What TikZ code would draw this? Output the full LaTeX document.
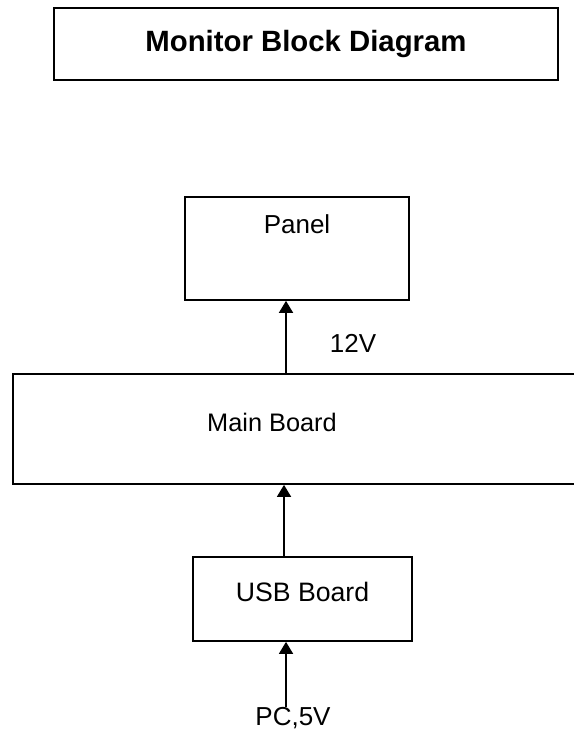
\documentclass[tikz,border=0pt]{standalone}
\usepackage{fontspec}
\setmainfont{Liberation Sans}
\usetikzlibrary{positioning,arrows.meta,calc}

\begin{document}
\begin{tikzpicture}[
        x=0.75pt, y=-0.75pt,
        blockBox/.style={rectangle, draw=black, line width=1.3pt, fill=white, inner sep=0pt, font=\fontsize{19}{23}\selectfont},
        arrowStyle/.style={-{Triangle[length=9pt, width=10.5pt]}, line width=1.3pt, draw=black},
        tagText/.style={inner sep=0pt, font=\fontsize{19.5}{23}\selectfont}
    ]
        \useasboundingbox (0,0) rectangle (574,735);
        \clip (0,0) rectangle (574,735);

        % Title
        \node[blockBox, minimum width=504*0.75pt, minimum height=72*0.75pt, font=\fontsize{22}{26}\selectfont\bfseries] (title) at (306,44) {Monitor Block Diagram};

        % Panel
        \node[blockBox, minimum width=224*0.75pt, minimum height=103*0.75pt,
              label={[anchor=north, inner sep=0pt, yshift=-13.5pt, font=\fontsize{19.5}{23}\selectfont]90:Panel}] (panel) at (297,248.5) {};

        % Main board (runs off the right edge)
        \node[blockBox, minimum width=590*0.75pt, minimum height=110*0.75pt,
              label={[xshift=-27pt, yshift=5pt, font=\fontsize{19}{23}\selectfont]center:Main Board}] (mainBoard) at (308,429) {};

        % USB board
        \node[blockBox, minimum width=219*0.75pt, minimum height=84*0.75pt,
              label={[yshift=5pt, font=\fontsize{20}{24}\selectfont]center:USB Board}] (usbBoard) at (302.5,599) {};

        % Labels
        \node[tagText] (volt12) at (353,343) {12V};
        \node[tagText] (pcIn) at (293,718) {PC,5V};

        \coordinate (railA) at (286,0);
        \coordinate (railB) at (284,0);
        \draw[arrowStyle] (railA |- mainBoard.north) -- (railA |- panel.south);
        \draw[arrowStyle] (railB |- usbBoard.north) -- (railB |- mainBoard.south);
        \draw[arrowStyle] (railA |- pcIn.north) -- (railA |- usbBoard.south);
    \end{tikzpicture}
\end{document}
